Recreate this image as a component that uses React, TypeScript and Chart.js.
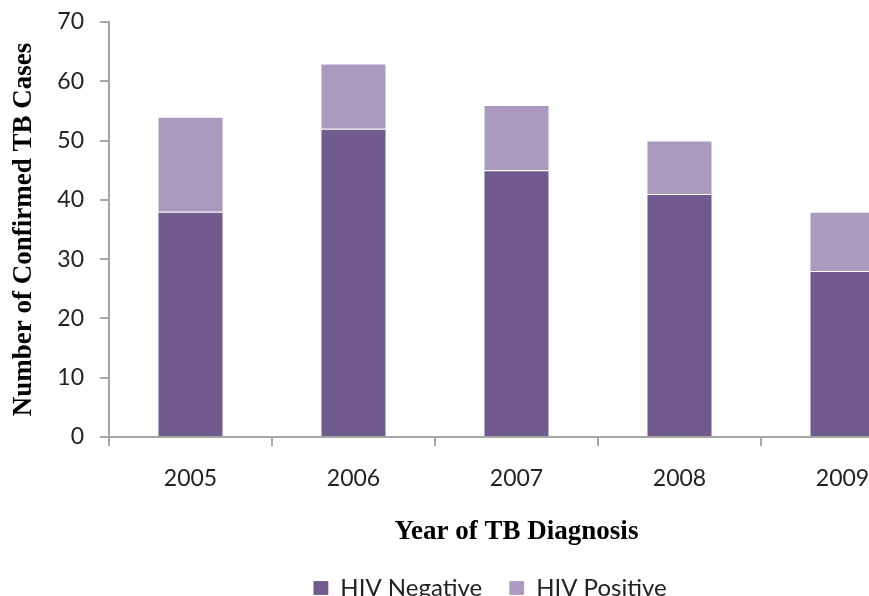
import React, { useEffect, useRef } from "react";
import { Chart, registerables } from "chart.js";

Chart.register(...registerables);

const years = ["2005", "2006", "2007", "2008", "2009"];
const hivNegative = [38, 52, 45, 41, 28];
const hivPositive = [16, 11, 11, 9, 10];
const yTicks = [0, 10, 20, 30, 40, 50, 60, 70];

const CANVAS_W = 980;
const CANVAS_H = 621;

// Legend sits centred on the full canvas width and a little closer to the axis title.
const legendShift = {
  id: "legendShift",
  afterLayout(chart: any) {
    const lg = chart.legend;
    if (!lg) return;
    const dx = (CANVAS_W - (lg.left + lg.right)) / 2;
    lg.left += dx;
    lg.right += dx;
    lg.top -= 11;
    lg.bottom -= 11;
  },
};

export default function App() {
  const canvasRef = useRef<HTMLCanvasElement | null>(null);

  useEffect(() => {
    const canvas = canvasRef.current;
    if (!canvas) return;
    const axisGray = "#A6A6A6";
    const chart = new Chart(canvas, {
      type: "bar",
      data: {
        labels: years,
        datasets: [
          {
            label: "HIV Negative",
            data: hivNegative,
            backgroundColor: "#705A8E",
            borderColor: "rgba(255,255,255,0.18)",
            borderWidth: 1,
            categoryPercentage: 1,
            barPercentage: 0.405,
          },
          {
            label: "HIV Positive",
            data: hivPositive,
            backgroundColor: "#A99ABE",
            borderColor: "rgba(255,255,255,0.25)",
            borderWidth: 1,
            categoryPercentage: 1,
            barPercentage: 0.405,
          },
        ],
      },
      plugins: [legendShift],
      options: {
        responsive: false,
        animation: false,
        devicePixelRatio: 1,
        layout: { padding: { top: 22, right: 56, left: 0, bottom: 0 } },
        plugins: {
          tooltip: { enabled: false },
          legend: {
            position: "bottom",
            labels: {
              boxWidth: 15,
              boxHeight: 14,
              padding: 27,
              color: "#222",
              font: { family: "Lato", size: 24 },
            },
          },
        },
        scales: {
          x: {
            stacked: true,
            border: { display: true, color: axisGray, width: 2 },
            grid: {
              display: true,
              drawOnChartArea: false,
              drawTicks: true,
              tickLength: 9,
              color: axisGray,
              lineWidth: 2,
              offset: true,
            },
            ticks: {
              color: "#222",
              font: { family: "Lato", size: 23 },
              padding: 19,
            },
            title: {
              display: true,
              text: "Year of TB Diagnosis",
              color: "#000",
              font: { family: "Liberation Serif", size: 27, weight: "bold" },
              padding: { top: 4, bottom: 12 },
            },
          },
          y: {
            stacked: true,
            min: 0,
            max: 70,
            afterBuildTicks: (scale: any) => {
              scale.ticks = yTicks.map((v) => ({ value: v }));
            },
            afterFit: (scale: any) => {
              scale.width = 109;
              scale.paddingTop = 0;
              scale.paddingBottom = 0;
            },
            border: { display: true, color: axisGray, width: 2 },
            grid: {
              display: true,
              drawOnChartArea: false,
              drawTicks: true,
              tickLength: 9,
              color: axisGray,
              lineWidth: 2,
            },
            ticks: {
              color: "#222",
              font: { family: "Lato", size: 23 },
              padding: 16,
            },
            title: {
              display: true,
              text: "Number of Confirmed TB Cases",
              color: "#000",
              font: { family: "Liberation Serif", size: 27, weight: "bold" },
              padding: { top: 8, bottom: 0 },
            },
          },
        },
      },
    });
    return () => chart.destroy();
  }, []);

  return (
    <div
      style={{
        position: "fixed",
        left: 0,
        top: 0,
        width: 869,
        height: 596,
        overflow: "hidden",
        background: "#fff",
      }}
    >
      <canvas ref={canvasRef} width={CANVAS_W} height={CANVAS_H} />
    </div>
  );
}
